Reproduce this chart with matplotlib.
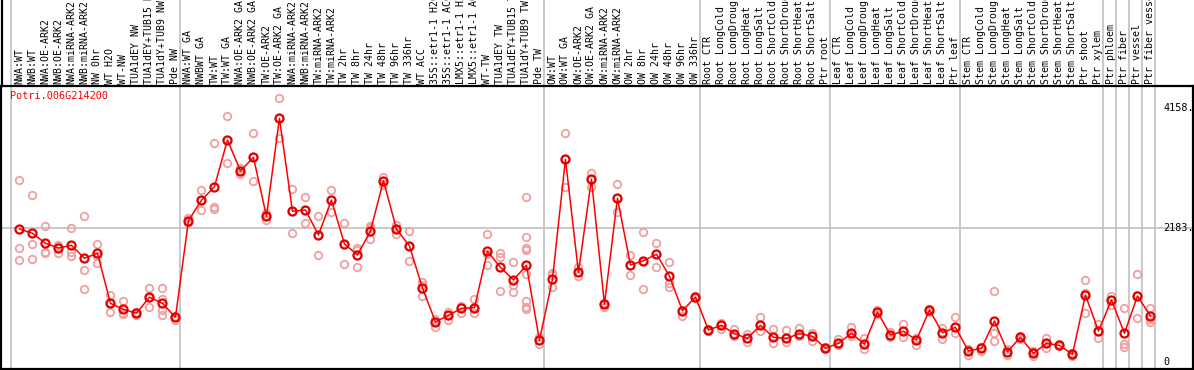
import matplotlib
matplotlib.use("Agg")
import matplotlib.pyplot as plt
from matplotlib.transforms import blended_transform_factory

# ---------------- data ----------------
title = "Potri.006G214200"

group1 = ["NWA:WT", "NWB:WT", "NWA:OE-ARK2", "NWB:OE-ARK2", "NWA:miRNA-ARK2", "NWB:miRNA-ARK2",
          "NW 0hr", "WT H2O", "WT-NW", "TUA1dEY NW", "TUA1dEY+TUB15 NW", "TUA1dY+TUB9 NW", "Pde NW"]
group2 = ["NWA:WT GA", "NWBWT GA", "TW:WT", "TW:WT GA", "NWA:OE-ARK2 GA", "NWB:OE-ARK2 GA",
          "TW:OE-ARK2", "TW:OE-ARK2 GA", "NWA:miRNA-ARK2", "NWB:miRNA-ARK2", "TW:miRNA-ARK2",
          "TW:miRNA-ARK2", "TW 2hr", "TW 8hr", "TW 24hr", "TW 48hr", "TW 96hr", "TW 336hr", "WT ACC",
          "35S::etr1-1 H2O", "35S::etr1-1 ACC", "LMX5::etr1-1 H2O", "LMX5::etr1-1 ACC", "WT-TW",
          "TUA1dEY TW", "TUA1dEY+TUB15 TW", "TUA1dY+TUB9 TW", "Pde TW"]
group3 = ["OW:WT", "OW:WT GA", "OW:OE-ARK2", "OW:OE-ARK2 GA", "OW:miRNA-ARK2", "OW:miRNA-ARK2",
          "OW 2hr", "OW 8hr", "OW 24hr", "OW 48hr", "OW 96hr", "OW 336hr"]
group4 = ["Root CTR", "Root LongCold", "Root LongDrought", "Root LongHeat", "Root LongSalt",
          "Root ShortCold", "Root ShortDrought", "Root ShortHeat", "Root ShortSalt", "Ptr root"]
group5 = ["Leaf CTR", "Leaf LongCold", "Leaf LongDrought", "Leaf LongHeat", "Leaf LongSalt",
          "Leaf ShortCold", "Leaf ShortDrought", "Leaf ShortHeat", "Leaf ShortSalt", "Ptr leaf"]
group6 = ["Stem CTR", "Stem LongCold", "Stem LongDrought", "Stem LongHeat", "Stem LongSalt",
          "Stem ShortCold", "Stem ShortDrought", "Stem ShortHeat", "Stem ShortSalt", "Ptr shoot", "Ptr xylem"]
group7 = ["Ptr phloem"]
group8 = ["Ptr fiber"]
group9 = ["Ptr vessel"]
group10 = ["Ptr fiber vessel"]
groups = [group1, group2, group3, group4, group5, group6, group7, group8, group9, group10]

means = [2171, 2100, 1937, 1860, 1904, 1692, 1773, 955, 857, 792, 1054, 955, 727,
         2307, 2641, 2863, 3627, 3120, 3344, 2379, 3982, 2461, 2482, 2073, 2645, 1926, 1746,
         2138, 2961, 2171, 1893, 1206, 650, 759, 874, 884, 1806, 1544, 1337, 1577, 350,
         1348, 3311, 1462, 2984, 939, 2673, 1582, 1652, 1757, 1402, 834, 1058,
         519, 595, 458, 382, 595, 399, 382, 458, 416, 219,
         301, 465, 285, 813, 437, 497, 355, 846, 474, 563,
         175, 219, 666, 164, 399, 137, 301, 268, 121, 1091, 502,
         1009, 465, 1075, 748]

replicates = [
    [2968, 1855, 1659], [2722, 1921, 1675], [2215, 1800, 1783], [1909, 1888, 1783],
    [2187, 1790, 1734], [2379, 1495, 1184], [1926, 1729, 1610], [1091, 955, 818],
    [993, 800, 778], [818, 790, 770], [1201, 1054, 900], [1201, 1021, 846, 759],
    [748, 727, 682],
    [2351, 2307, 2274], [2809, 2641, 2477], [3573, 2526, 2493], [4015, 3620, 3246],
    [3164, 3120, 3071], [3737, 3344, 2951], [2428, 2379, 2323], [4309, 3982, 3655],
    [2820, 2461, 2100], [2690, 2482, 2264], [2384, 2073, 1746], [2809, 2645, 2454],
    [2264, 1926, 1598], [1855, 1827, 1549], [2220, 2180, 2003], [3027, 2961, 2891],
    [2236, 2171, 2089], [2138, 1893, 1643], [1304, 1255, 1075], [694, 650, 563],
    [818, 759, 682], [911, 895, 792], [1021, 874, 792], [2084, 1757, 1577],
    [1778, 1708, 1152], [1626, 1255, 1135], [2690, 2045, 1855, 1827, 1430, 993, 900, 857],
    [409, 350, 285],
    [1446, 1418, 1227], [3737, 3311, 2863], [1554, 1462, 1402], [3092, 2984, 2863],
    [955, 939, 900], [2902, 2673, 2454], [1746, 1582, 1413], [2117, 1652, 1184],
    [1937, 1757, 1544], [1636, 1292, 1217], [852, 834, 748], [1075, 1058, 1040],
    [540, 519, 500], [638, 595, 540], [540, 458, 420], [448, 382, 327], [726, 595, 507],
    [530, 399, 311], [519, 382, 316], [551, 458, 420], [474, 416, 344], [240, 219, 200],
    [366, 301, 280], [567, 465, 420], [382, 285, 203], [846, 813, 780], [480, 437, 400],
    [612, 497, 409], [382, 355, 278], [870, 846, 820], [556, 474, 366], [726, 563, 465],
    [200, 175, 110], [240, 219, 180], [1157, 465, 344], [200, 164, 110], [420, 399, 370],
    [180, 137, 100], [382, 301, 219], [290, 268, 250], [150, 121, 100], [1332, 1129, 792],
    [617, 502, 382],
    [1075, 1009, 928], [874, 285, 245], [1430, 1085, 710], [874, 694, 645],
]

ytick_values = [0, 2183, 4158]
ytick_labels = ["0", "2183.", "4158."]

# ---------------- layout (pixels) ----------------
W, H, DPI = 1194, 370, 100
PLOT_L, PLOT_R, PLOT_T, PLOT_B = 1, 1193, 86, 369
COL0, COLW = 11, 13          # first column left edge and column width in pixels
Y0_PX, PX_PER_UNIT = 361.7, 0.06113

labels = [lab for g in groups for lab in g]
n = len(labels)
xpos = [i + 0.65 for i in range(n)]

fig = plt.figure(figsize=(W / DPI, H / DPI), dpi=DPI)
ax = fig.add_axes([PLOT_L / W, (H - PLOT_B) / H, (PLOT_R - PLOT_L) / W, (PLOT_B - PLOT_T) / H])
ax.set_xlim((PLOT_L - COL0) / COLW, (PLOT_R - COL0) / COLW)
ax.set_ylim((Y0_PX - PLOT_B) / PX_PER_UNIT, (Y0_PX - PLOT_T) / PX_PER_UNIT)
ax.set_xticks([])
ax.set_yticks([])
for s in ax.spines.values():
    s.set_color("black")
    s.set_linewidth(1.6)

mono = "DejaVu Sans Mono"
grid_c = "#c0c0c0"
ext = (PLOT_B - 0) / (PLOT_B - PLOT_T)

# group boundaries
bounds = [0]
for g in groups:
    bounds.append(bounds[-1] + len(g))
for b in bounds:
    ax.axvline(b, ymin=0, ymax=ext, color=grid_c, lw=1.2, clip_on=False, zorder=0)
ax.axhline(ytick_values[1], color=grid_c, lw=1.2, zorder=0)

# left border through header
ax.axvline((PLOT_L + 0.5 - COL0) / COLW, ymin=1, ymax=ext, color="black", lw=1.6, clip_on=False)

# replicates
for x, reps in zip(xpos, replicates):
    ax.plot([x] * len(reps), reps, linestyle="none", marker="o", markersize=5.4,
            markerfacecolor="none", markeredgecolor="#f0a0a0", markeredgewidth=1.3, zorder=2)

# mean line
ax.plot(xpos, means, color="red", lw=1.1, marker="o", markersize=5.8,
        markerfacecolor="none", markeredgecolor="#e00000", markeredgewidth=1.6, zorder=3)

# header labels
tr = blended_transform_factory(ax.transData, ax.transAxes)
label_bottom = (PLOT_B - 84) / (PLOT_B - PLOT_T)
for x, lab in zip(xpos, labels):
    ax.text(x, label_bottom, lab, rotation=90, ha="center", va="bottom", transform=tr,
            fontsize=7.1, family=mono, color="black", clip_on=False)

# title
ax.text((10 - PLOT_L) / (PLOT_R - PLOT_L), 1 - (91 - PLOT_T) / (PLOT_B - PLOT_T), title,
        transform=ax.transAxes, ha="left", va="top", fontsize=7.3, family=mono, color="red")

# y labels on the right
trr = blended_transform_factory(ax.transAxes, ax.transData)
for v, lab in zip(ytick_values, ytick_labels):
    ax.text((1163 - PLOT_L) / (PLOT_R - PLOT_L), v, lab, transform=trr, ha="left", va="center",
            fontsize=7.3, family=mono, color="black")

fig.savefig("out.png", dpi=DPI)
